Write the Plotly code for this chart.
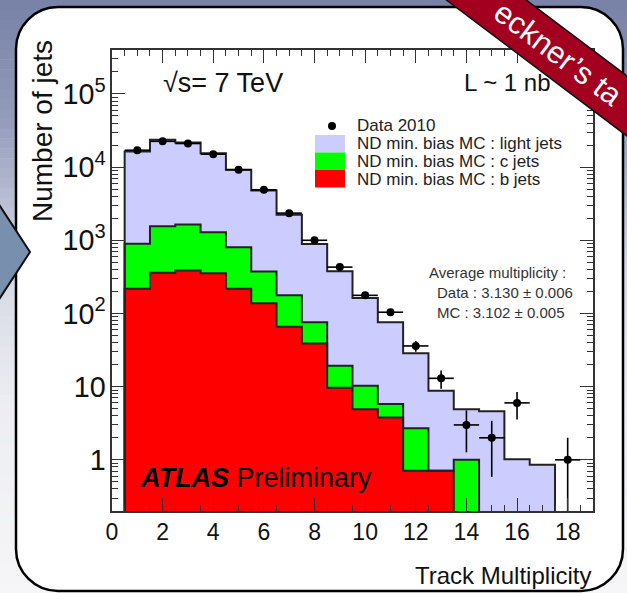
import numpy as np
import plotly.graph_objects as go

# ---------------- data ----------------
track_mult = list(range(1, 19))
data_2010 = [17000, 22500, 21000, 15000, 9200, 4900, 2350, 1000, 430, 177,
             104, 36, 13, 3, 2, 6, 0, 1]
mc_light = [15400, 22000, 20100, 14200, 8400, 4420, 2060, 815, 357, 152,
            70, 25.8, 8.1, 3.9, 4.6, 1.02, 0.86, 0]
mc_c = [677, 1190, 1250, 935, 587, 238, 111, 37, 9.6, 5.4,
        2.0, 2.0, 0, 1.0, 0, 0, 0, 0]
mc_b = [218, 361, 388, 355, 218, 138, 66, 39, 9.7, 4.9,
        3.8, 0.71, 0.71, 0, 0, 0, 0, 0]
x_tick_vals = [0, 2, 4, 6, 8, 10, 12, 14, 16, 18]

legend_labels = ["Data 2010", "ND min. bias MC : light jets",
                 "ND min. bias MC : c jets", "ND min. bias MC : b jets"]
avg_lines = ["Average multiplicity :", "Data : 3.130 ± 0.006", "MC : 3.102 ± 0.005"]

# ---------------- geometry helpers ----------------
W, H = 627, 593
PL, PR, PT, PB = 112, 593, 50, 511


def px(x):
    return (x - PL) / (PR - PL)


def py(y):
    return (PB - y) / (PB - PT)


LIGHT = "#ccccff"
GREEN = "#00ff00"
RED = "#ff0000"
EDGE = "#222222"
FONT = "Liberation Sans, Arial, sans-serif"

x = np.array(track_mult, dtype=float)
b = np.array(mc_b, dtype=float)
bc = b + np.array(mc_c, dtype=float)
tot = bc + np.array(mc_light, dtype=float)

FLOOR = 1e-3


def outline(vals):
    xs, ys = [x[0] - 0.5], [FLOOR]
    for xi, v in zip(x, vals):
        vv = v if v > 0 else FLOOR
        xs += [xi - 0.5, xi + 0.5]
        ys += [vv, vv]
    xs.append(x[-1] + 0.5)
    ys.append(FLOOR)
    return xs, ys


fig = go.Figure()
for vals, col in [(tot, LIGHT), (bc, GREEN), (b, RED)]:
    yv = [v if v > 0 else None for v in vals]
    fig.add_trace(go.Bar(x=x, y=yv, width=1.0, marker=dict(color=col, line=dict(width=0)),
                         showlegend=False, hoverinfo="skip"))
for vals in [tot, bc, b]:
    xs, ys = outline(vals)
    fig.add_trace(go.Scatter(x=xs, y=ys, mode="lines", line=dict(color=EDGE, width=2),
                             showlegend=False, hoverinfo="skip"))

d = np.array(data_2010, dtype=float)
mask = d > 0
fig.add_trace(go.Scatter(
    x=x[mask], y=d[mask], mode="markers",
    marker=dict(color="black", size=8),
    error_y=dict(type="data", array=np.sqrt(d[mask]), color="black", thickness=1.6, width=0),
    error_x=dict(type="constant", value=0.5, color="black", thickness=1.6, width=0),
    showlegend=False))

# ---------------- decorations ----------------
shapes = []
# slide background gradient (bands)
stops = [(0, (120, 130, 166)), (120, (148, 156, 187)), (260, (212, 215, 227)),
         (400, (236, 237, 242)), (593, (246, 246, 248))]
nb = 60
for i in range(nb):
    y0 = H * i / nb
    y1 = H * (i + 1) / nb
    ym = (y0 + y1) / 2
    for (sa, ca), (sb, cb) in zip(stops[:-1], stops[1:]):
        if sa <= ym <= sb:
            t = (ym - sa) / (sb - sa)
            c = tuple(int(round(ca[k] + t * (cb[k] - ca[k]))) for k in range(3))
            break
    shapes.append(dict(type="rect", xref="paper", yref="paper", layer="below",
                       x0=px(0), x1=px(W), y0=py(y1 + 0.5), y1=py(y0),
                       fillcolor="rgb(%d,%d,%d)" % c, line=dict(width=0)))

# rounded white box
bx0, bx1, by0, by1, r = 16, 623, 7, 591, 42
k = 0.5523 * r


def P(xp, yp):
    return "%.5f,%.5f" % (px(xp), py(yp))


path = ("M " + P(bx0 + r, by0) + " L " + P(bx1 - r, by0) +
        " C " + P(bx1 - r + k, by0) + " " + P(bx1, by0 + r - k) + " " + P(bx1, by0 + r) +
        " L " + P(bx1, by1 - r) +
        " C " + P(bx1, by1 - r + k) + " " + P(bx1 - r + k, by1) + " " + P(bx1 - r, by1) +
        " L " + P(bx0 + r, by1) +
        " C " + P(bx0 + r - k, by1) + " " + P(bx0, by1 - r + k) + " " + P(bx0, by1 - r) +
        " L " + P(bx0, by0 + r) +
        " C " + P(bx0, by0 + r - k) + " " + P(bx0 + r - k, by0) + " " + P(bx0 + r, by0) + " Z")
shapes.append(dict(type="path", path=path, xref="paper", yref="paper", layer="below",
                   fillcolor="white", line=dict(color="black", width=2.5)))

# triangle on the left
tri = "M " + P(-4, 200) + " L " + P(30, 252) + " L " + P(-4, 304) + " Z"
shapes.append(dict(type="path", path=tri, xref="paper", yref="paper", layer="above",
                   fillcolor="#7890ae", line=dict(color="#111111", width=2)))

# red banner top-right
ang = np.deg2rad(37)
cx, cy = 558, 54
dx, dy = np.cos(ang), np.sin(ang)
nx, ny = -np.sin(ang), np.cos(ang)
hw, hl = 24, 300
pts = [(cx - hl * dx - hw * nx, cy - hl * dy - hw * ny),
       (cx + hl * dx - hw * nx, cy + hl * dy - hw * ny),
       (cx + hl * dx + hw * nx, cy + hl * dy + hw * ny),
       (cx - hl * dx + hw * nx, cy - hl * dy + hw * ny)]
ban = "M " + " L ".join(P(a, c) for a, c in pts) + " Z"
shapes.append(dict(type="path", path=ban, xref="paper", yref="paper", layer="above",
                   fillcolor="#a3001f", line=dict(color="#111111", width=1.5)))

# legend boxes
for i, col in enumerate([LIGHT, GREEN, RED]):
    yt = 135 + 17.5 * i
    shapes.append(dict(type="rect", xref="paper", yref="paper", layer="above",
                       x0=px(315), x1=px(345), y0=py(yt + 17.5), y1=py(yt),
                       fillcolor=col, line=dict(width=0)))
shapes.append(dict(type="circle", xref="paper", yref="paper", layer="above",
                   x0=px(328), x1=px(336), y0=py(130), y1=py(122),
                   fillcolor="black", line=dict(width=0)))

ann = []


def text(t, xp, yp, size, xanchor="left", yanchor="middle", color="#111111", angle=0, family=FONT):
    ann.append(dict(text=t, x=px(xp), y=py(yp), xref="paper", yref="paper",
                    xanchor=xanchor, yanchor=yanchor, showarrow=False, textangle=angle,
                    font=dict(size=size, color=color, family=family)))


for i, lab in enumerate(legend_labels):
    text(lab, 355, 126 + 17.7 * i, 17, color="#222222")
text(avg_lines[0], 427, 272, 15, color="#333333")
text(avg_lines[1], 435, 292.5, 15, color="#333333")
text(avg_lines[2], 435, 312.5, 15, color="#333333")
text("√s= 7 TeV", 161, 83, 27)
text("L ~ 1 nb", 462, 83, 24)
text("<b><i>ATLAS</i></b> Preliminary", 138, 478, 27, color="black")
text("Track Multiplicity", 593, 575, 24, xanchor="right")
text("Number of jets", 42, 38, 28, xanchor="center", yanchor="top", angle=-90)
text("eckner’s ta", 558, 53, 31, xanchor="center", color="white", angle=37)

fig.update_layout(
    width=W, height=H,
    margin=dict(l=PL, r=W - PR, t=PT, b=H - PB),
    paper_bgcolor="white", plot_bgcolor="rgba(0,0,0,0)",
    barmode="overlay", bargap=0,
    showlegend=False,
    shapes=shapes, annotations=ann,
    font=dict(family=FONT, color="#111111"),
    xaxis=dict(range=[0, 19], tickmode="array", tickvals=x_tick_vals,
               ticks="inside", ticklen=13, tickwidth=1.3, tickcolor="#333333",
               minor=dict(dtick=0.5, ticks="inside", ticklen=6, tickwidth=1.2, tickcolor="#333333"),
               showline=True, linecolor="#333333", linewidth=1.5, mirror="allticks",
               showgrid=False, zeroline=False,
               tickfont=dict(size=23, color="#111111", family=FONT)),
    yaxis=dict(type="log", range=[np.log10(0.2), 5.6], dtick=1, exponentformat="power",
               ticks="inside", ticklen=13, tickwidth=1.3, tickcolor="#333333",
               minor=dict(dtick="D1", ticks="inside", ticklen=6, tickwidth=1.2, tickcolor="#333333"),
               showline=True, linecolor="#333333", linewidth=1.5, mirror="allticks",
               showgrid=False, zeroline=False,
               tickfont=dict(size=23, color="#111111", family=FONT)),
)

fig.write_html("out.html")
